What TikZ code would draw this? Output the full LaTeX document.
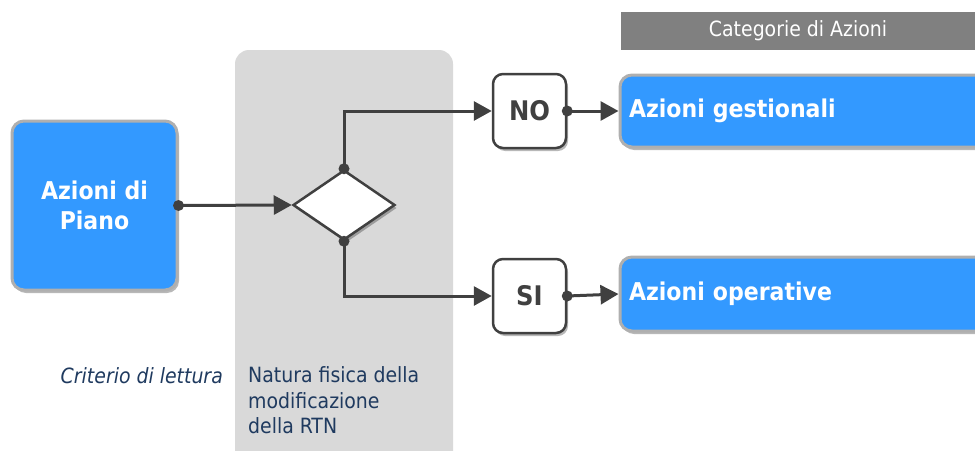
\documentclass[tikz,border=0pt]{standalone}
\usepackage{fontspec}
\setmainfont{DejaVu Sans Condensed}
\usetikzlibrary{shapes.geometric,arrows.meta,shadows}
\definecolor{blueA}{HTML}{3399FF}
\definecolor{lineC}{HTML}{404040}
\definecolor{panelC}{HTML}{D9D9D9}
\definecolor{headC}{HTML}{808080}
\definecolor{navy}{HTML}{1F3A5F}
\definecolor{bordC}{HTML}{AFAFAF}
\tikzset{
  softshadow/.style={drop shadow={shadow xshift=2pt,shadow yshift=-3pt,opacity=0.28,fill=black}},
  bluebox/.style={draw=bordC,line width=3pt,fill=blueA,rounded corners=12pt,text=white,
    font=\fontsize{24.5}{30}\selectfont\bfseries,softshadow},
  choicebox/.style={draw=lineC,line width=2.5pt,fill=white,rounded corners=10pt,
    minimum width=73pt,minimum height=74pt,inner sep=0pt,text=lineC,
    font=\fontsize{27}{30}\selectfont\bfseries,softshadow},
  flow/.style={draw=lineC,line width=3pt,-{Triangle[length=18pt,width=19pt]}},
  dotC/.style={fill=lineC},
  note/.style={text=navy,font=\fontsize{21}{25.5}\selectfont,inner sep=0pt}
}
\begin{document}
\begin{tikzpicture}[x=1pt,y=-1pt]
\useasboundingbox (0,0) rectangle (975,450);
% panel
\fill[panelC,rounded corners=14pt] (235,50) rectangle (453,480);
% header
\node[fill=headC,minimum width=355pt,minimum height=38pt,inner sep=0pt,text=white,
  font=\fontsize{21}{25}\selectfont] (head) at (798,31) {Categorie di Azioni};
% main nodes
\node[bluebox,minimum width=165pt,minimum height=169pt,align=center,inner sep=0pt] (piano) at (94.5,205.5) {Azioni di\\Piano};
\node[diamond,draw=lineC,line width=2.5pt,fill=white,minimum width=102pt,minimum height=70pt,inner sep=0pt,softshadow] (dia) at (344,205) {};
\node[choicebox] (no) at (529.5,111) {NO};
\node[choicebox] (si) at (529.5,296) {SI};
\node[bluebox,text width=352pt,inner xsep=9pt,inner ysep=0pt,minimum height=72pt,align=left] (gest) at (805,111) {\raisebox{-2pt}{Azioni gestionali}};
\node[bluebox,text width=352pt,inner xsep=9pt,inner ysep=0pt,minimum height=74pt,align=left] (oper) at (805,294) {\raisebox{-2pt}{Azioni operative}};
% connectors
\draw[flow] (piano.east) -- (dia.west);
\draw[flow] (dia.north) |- (no.west);
\draw[flow] (dia.south) |- (si.west);
\draw[flow] (no.east) -- (gest.west);
\draw[flow] (si.east) -- (oper.west);
\foreach \p in {piano.east,dia.north,dia.south,no.east,si.east}
  \fill[dotC] (\p) circle (5.5pt);
% texts
\node[note,anchor=base east,font=\fontsize{21}{25.5}\selectfont\itshape] (crit) at (223,383) {Criterio di lettura};
\node[note,anchor=north west,align=left] (natura) at (248,366.5) {Natura fisica della\\modificazione\\della RTN};
\end{tikzpicture}
\end{document}
